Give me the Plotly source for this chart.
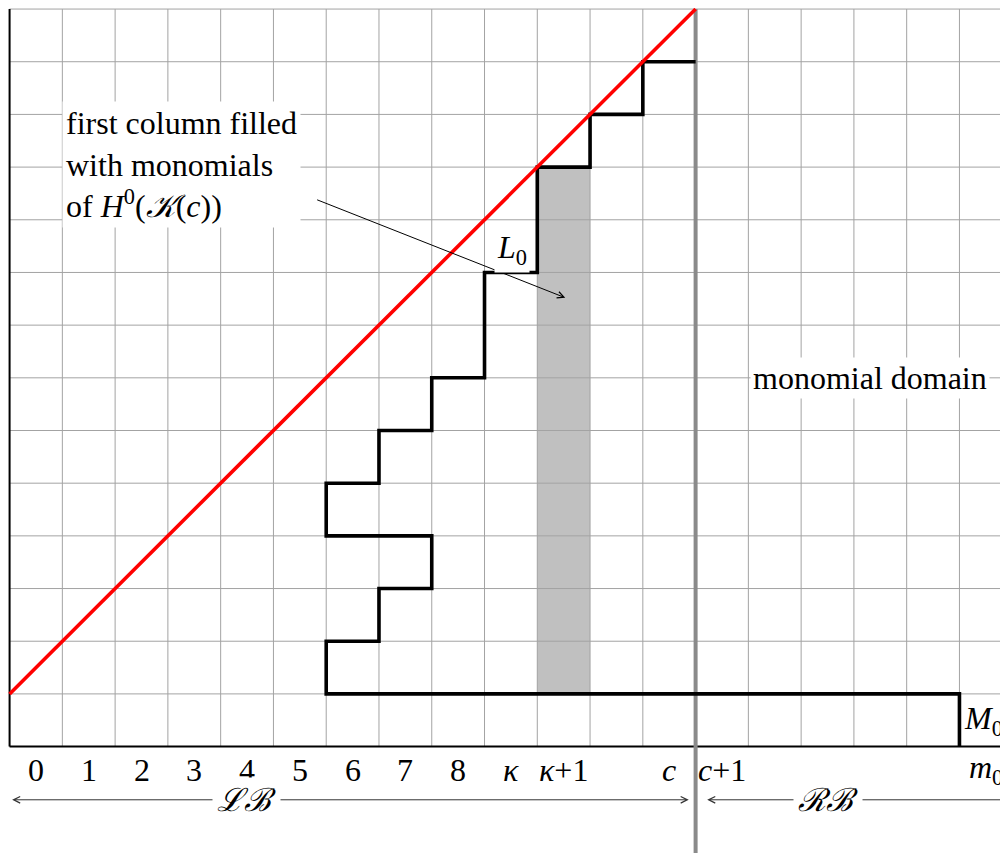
import plotly.graph_objects as go

# grid size in cells
n_cols = 19
n_rows = 14

# staircase outline bounding L0 / M0
stair_x = [18, 18, 6, 6, 7, 7, 8, 8, 6, 6, 7, 7, 8, 8, 9, 9, 10, 10, 11, 11, 12, 12, 13]
stair_y = [0, 1, 1, 2, 2, 3, 3, 4, 4, 5, 5, 6, 6, 7, 7, 9, 9, 11, 11, 12, 12, 13, 13]

# red diagonal
diag_x = [0, 13]
diag_y = [1, 14]

# shaded column (kappa+1)
shade_x = [10, 11]
shade_y = [1, 11]

# column c / c+1 separator
c_sep = 13

# column labels under the grid
tick_pos = [0.5, 1.5, 2.5, 3.5, 4.5, 5.5, 6.5, 7.5, 8.5, 9.5, 10.5, 12.5, 13.5, 18.5]
tick_text = ["0", "1", "2", "3", "4", "5", "6", "7", "8",
             "<i>κ</i>", "<i>κ</i>+1", "<i>c</i>", "<i>c</i>+1", "<i>m</i><sub>0</sub>"]

FONT = dict(family="Liberation Serif", size=32, color="black")
# page body has an 8px margin, so the figure is a bit smaller than the window
X_RANGE = [-0.03, 18.92]
Y_RANGE = [-2.02, 14.02]

fig = go.Figure()

# shaded column
fig.add_trace(go.Scatter(
    x=[shade_x[0], shade_x[1], shade_x[1], shade_x[0], shade_x[0]],
    y=[shade_y[0], shade_y[0], shade_y[1], shade_y[1], shade_y[0]],
    fill="toself", fillcolor="#c0c0c0", mode="none", hoverinfo="skip"))

# grid
gx, gy = [], []
for i in range(n_cols + 1):
    gx += [i, i, None]
    gy += [0, n_rows, None]
for j in range(1, n_rows + 1):
    gx += [0, n_cols + 0.5, None]
    gy += [j, j, None]
fig.add_trace(go.Scatter(x=gx, y=gy, mode="lines",
                         line=dict(color="#a3a3a3", width=1), hoverinfo="skip"))

# axes
fig.add_trace(go.Scatter(x=[0, 0, None, 0, n_cols + 0.5], y=[n_rows, 0, None, 0, 0],
                         mode="lines", line=dict(color="black", width=2), hoverinfo="skip"))

# c separator
fig.add_trace(go.Scatter(x=[c_sep, c_sep], y=[n_rows, Y_RANGE[0] - 1], mode="lines",
                         line=dict(color="#8a8a8a", width=4), hoverinfo="skip"))

# staircase
fig.add_trace(go.Scatter(x=stair_x, y=stair_y, mode="lines",
                         line=dict(color="black", width=3.6), hoverinfo="skip"))

# diagonal
fig.add_trace(go.Scatter(x=diag_x, y=diag_y, mode="lines",
                         line=dict(color="#ff0000", width=3.6), hoverinfo="skip"))

ann = []
for p, t in zip(tick_pos, tick_text):
    ann.append(dict(x=p, y=-0.44, text=t, showarrow=False, xanchor="center", yanchor="middle",
                    font=FONT))

# explanatory box and arrow
ann.append(dict(x=10.53, y=8.52, ax=5.80, ay=10.39, axref="x", ayref="y", text="",
                showarrow=True, arrowhead=5, arrowsize=1.3, arrowwidth=1, arrowcolor="black"))
ann.append(dict(x=1.0, y=12.25, xanchor="left", yanchor="top", align="left", showarrow=False,
                text="first column filled<br>with monomials<br>of <i>H</i><sup>0</sup>(<i>𝒦</i>(<i>c</i>))",
                bgcolor="white", borderpad=3, font=FONT))
ann.append(dict(x=9.53, y=9.44, text="<i>L</i><sub>0</sub>", showarrow=False,
                bgcolor="white", borderpad=2, font=FONT))
ann.append(dict(x=18.05, y=0.5, text="<i>M</i><sub>0</sub>", showarrow=False,
                xanchor="left", bgcolor="white", borderpad=1, font=FONT))
ann.append(dict(x=14.03, y=7.0, text="monomial domain", showarrow=False,
                xanchor="left", bgcolor="white", borderpad=2, font=FONT))

# left / right blocks
ann.append(dict(x=12.87, y=-1.01, ax=0.02, ay=-1.01, axref="x", ayref="y", text="",
                showarrow=True, arrowside="end+start", arrowhead=5, startarrowhead=5,
                arrowsize=1.3, startarrowsize=1.3, arrowwidth=1, arrowcolor="#333333"))
ann.append(dict(x=13.22, y=-1.01, ax=18.9, ay=-1.01, axref="x", ayref="y", text="",
                showarrow=True, arrowhead=5, arrowsize=1.3, arrowwidth=1, arrowcolor="#333333"))
ann.append(dict(x=4.49, y=-1.01, text="<i>ℒℬ</i>", showarrow=False, bgcolor="white",
                borderpad=4, font=FONT))
ann.append(dict(x=15.5, y=-1.01, text="<i>ℛℬ</i>", showarrow=False, bgcolor="white",
                borderpad=4, font=FONT))

fig.update_layout(
    width=1000, height=845,
    margin=dict(l=0, r=0, t=0, b=0),
    plot_bgcolor="white", paper_bgcolor="white",
    showlegend=False,
    font=FONT,
    xaxis=dict(range=X_RANGE, visible=False, fixedrange=True),
    yaxis=dict(range=Y_RANGE, visible=False, fixedrange=True),
    annotations=ann,
)

fig.write_html("out.html")
